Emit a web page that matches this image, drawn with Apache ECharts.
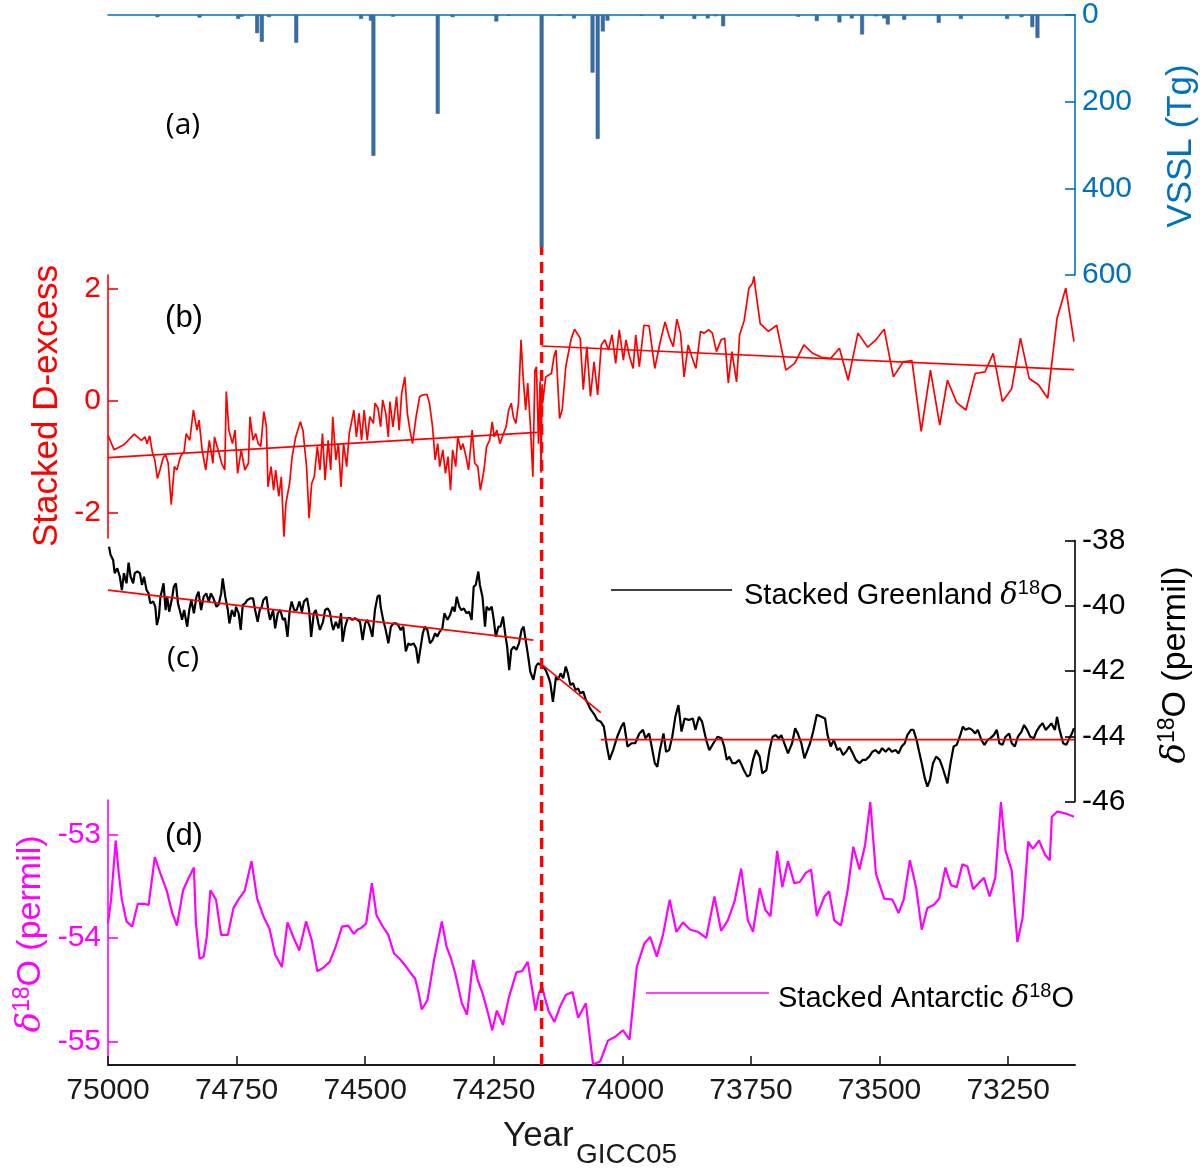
<!DOCTYPE html>
<html><head><meta charset="utf-8">
<script src="https://cdn.jsdelivr.net/npm/echarts@6/dist/echarts.min.js"></script>
<style>html,body{margin:0;padding:0;background:#fff}#c{width:1200px;height:1172px}</style>
</head><body><div id="c"></div>
<script>
// ---------- data ----------
const X_MIN = 73120, X_MAX = 75000;
const X_TICKS = [75000, 74750, 74500, 74250, 74000, 73750, 73500, 73250];
const EVENT_YEAR = 74157;

const VSSL_TICKS = [0, 200, 400, 600];
const VSSL = [[74904,5],[74822,6],[74747,9],[74740,4],[74710,42],[74701,62],[74687,5],[74634,64],[74508,9],[74489,13],[74484,325],[74446,4],[74359,228],[74330,5],[74245,15],[74221,2],[74157,536],[74122,2],[74094,8],[74058,133],[74048,286],[74038,38],[74029,13],[73963,2],[73923,9],[73860,9],[73834,8],[73819,3],[73804,26],[73658,4],[73622,14],[73578,17],[73554,8],[73534,45],[73507,3],[73491,8],[73484,22],[73452,11],[73385,18],[73342,9],[73252,9],[73224,5],[73203,28],[73193,53]];

const DEXCESS_TICKS = [-2, 0, 2];
const DEXCESS = [[75000,-0.61],[74988,-0.87],[74969,-0.78],[74949,-0.59],[74935,-0.70],[74928,-0.64],[74924,-0.76],[74919,-0.62],[74914,-0.90],[74909,-1.05],[74904,-1.38],[74899,-1.23],[74893,-1.02],[74888,-0.96],[74883,-1.11],[74877,-1.85],[74871,-1.17],[74866,-1.23],[74859,-0.99],[74852,-0.90],[74848,-0.58],[74841,-0.70],[74834,-0.16],[74827,-0.52],[74823,-0.34],[74817,-0.87],[74810,-1.23],[74803,-0.70],[74796,-1.11],[74793,-0.64],[74786,-0.87],[74779,-1.11],[74773,-1.23],[74770,0.17],[74765,-0.52],[74758,-0.76],[74753,-0.52],[74748,-1.29],[74741,-0.87],[74734,-1.23],[74727,-1.11],[74724,-0.28],[74718,-0.70],[74713,-0.58],[74708,-0.76],[74703,-0.81],[74697,-0.19],[74692,-0.46],[74689,-1.53],[74683,-1.17],[74678,-1.59],[74674,-1.23],[74668,-1.70],[74663,-1.35],[74658,-2.42],[74654,-1.82],[74647,-1.47],[74642,-0.99],[74635,-0.64],[74626,-0.37],[74621,-0.52],[74614,-1.17],[74609,-2.09],[74604,-1.47],[74599,-1.35],[74593,-0.81],[74588,-1.23],[74583,-0.58],[74578,-1.41],[74572,-0.70],[74567,-1.23],[74563,-0.28],[74557,-1.05],[74552,-0.76],[74547,-1.53],[74542,-0.76],[74536,-1.17],[74531,-0.58],[74522,-0.16],[74517,-0.64],[74512,-0.22],[74507,-0.70],[74502,-0.16],[74496,-0.70],[74491,-0.28],[74484,-0.40],[74481,-0.04],[74475,-0.13],[74470,-0.46],[74466,0.02],[74460,-0.22],[74455,-0.64],[74452,-0.01],[74446,-0.46],[74439,0.08],[74434,-0.52],[74429,0.14],[74423,0.43],[74418,-0.22],[74413,-0.52],[74408,-0.76],[74401,-0.28],[74394,0.08],[74387,0.11],[74380,0.12],[74375,-0.04],[74369,-0.46],[74364,-1.05],[74359,-0.76],[74355,-1.17],[74349,-0.87],[74344,-1.29],[74339,-0.99],[74334,-1.59],[74330,-0.87],[74324,-1.17],[74320,-0.64],[74314,-0.87],[74310,-0.76],[74304,-0.99],[74299,-1.23],[74292,-0.52],[74287,-1.11],[74281,-1.17],[74276,-1.59],[74269,-1.23],[74264,-0.81],[74258,-0.70],[74253,-0.37],[74249,-0.64],[74244,-0.52],[74238,-0.76],[74231,-0.58],[74226,-0.46],[74221,-0.16],[74216,-0.04],[74212,-0.28],[74207,-0.40],[74202,-0.04],[74197,1.09],[74193,0.43],[74188,-0.16],[74184,0.32],[74179,-0.40],[74174,-1.35],[74170,0.55],[74167,0.61],[74163,-0.76],[74160,0.35],[74158,-1.28],[74156,0.30],[74155,-0.04],[74149,0.43],[74138,0.49],[74133,0.79],[74129,0.91],[74122,-0.31],[74117,-0.16],[74110,0.61],[74100,1.09],[74093,1.28],[74082,1.12],[74076,0.20],[74069,0.97],[74062,0.08],[74055,0.70],[74048,0.11],[74041,1.00],[74034,1.09],[74027,0.91],[74020,1.18],[74013,0.67],[74006,1.27],[73998,0.73],[73993,1.09],[73986,0.79],[73979,0.58],[73974,1.18],[73967,0.61],[73958,1.35],[73948,1.34],[73937,0.58],[73927,1.03],[73917,1.41],[73908,1.12],[73901,0.97],[73894,1.46],[73887,1.21],[73880,0.43],[73872,1.00],[73865,0.79],[73857,0.58],[73848,1.24],[73841,1.21],[73832,1.27],[73825,1.21],[73817,0.88],[73808,1.09],[73801,1.12],[73794,0.32],[73787,0.88],[73778,0.34],[73772,1.18],[73763,1.44],[73754,2.01],[73747,2.10],[73744,2.22],[73741,1.98],[73732,1.38],[73716,1.24],[73700,1.35],[73682,0.55],[73665,0.67],[73647,1.00],[73630,0.85],[73613,0.78],[73595,0.76],[73578,0.94],[73561,0.37],[73542,1.21],[73523,0.96],[73507,1.09],[73491,1.28],[73473,0.43],[73454,0.70],[73437,0.72],[73419,-0.54],[73401,0.55],[73383,-0.43],[73368,0.37],[73350,-0.03],[73332,-0.16],[73314,0.49],[73295,0.52],[73279,0.85],[73261,-0.01],[73243,0.22],[73226,1.12],[73209,0.40],[73191,0.29],[73173,0.05],[73155,1.47],[73138,2.01],[73122,1.06]];
const DEXCESS_TREND_1 = [[75000,-1.01],[74165,-0.56]];
const DEXCESS_TREND_2 = [[74157,0.98],[73122,0.56]];

const GREENLAND_TICKS = [-46, -44, -42, -40, -38];
const GREENLAND = [[74998,-38.19],[74995,-38.44],[74990,-38.60],[74987,-39.00],[74982,-38.85],[74977,-39.11],[74973,-39.52],[74969,-39.00],[74964,-39.31],[74960,-38.68],[74956,-39.11],[74951,-39.31],[74948,-39.00],[74943,-38.95],[74938,-39.00],[74934,-39.36],[74930,-39.11],[74925,-39.52],[74921,-39.62],[74918,-39.92],[74912,-39.87],[74908,-40.03],[74905,-40.59],[74901,-40.33],[74898,-39.72],[74895,-39.52],[74892,-39.31],[74888,-40.13],[74885,-39.72],[74881,-40.18],[74875,-39.72],[74872,-39.41],[74868,-39.31],[74864,-39.92],[74859,-40.23],[74856,-40.43],[74852,-40.13],[74846,-40.64],[74842,-40.13],[74838,-39.82],[74833,-40.23],[74828,-39.72],[74824,-39.57],[74819,-40.13],[74814,-39.72],[74809,-39.62],[74804,-39.87],[74800,-39.62],[74795,-39.77],[74789,-40.03],[74785,-39.97],[74780,-39.62],[74777,-39.16],[74772,-39.72],[74767,-40.13],[74764,-40.54],[74759,-40.13],[74754,-40.33],[74751,-40.03],[74746,-40.23],[74742,-40.74],[74738,-39.97],[74733,-39.92],[74729,-39.82],[74723,-39.77],[74718,-39.77],[74714,-40.13],[74709,-40.49],[74705,-40.13],[74701,-40.03],[74698,-39.82],[74692,-39.72],[74688,-40.18],[74685,-40.43],[74679,-40.13],[74675,-40.69],[74670,-40.23],[74665,-40.13],[74660,-40.43],[74656,-40.38],[74651,-40.95],[74647,-40.18],[74643,-39.87],[74638,-40.13],[74633,-40.13],[74628,-39.87],[74623,-40.18],[74619,-39.87],[74613,-39.77],[74609,-40.13],[74605,-40.95],[74600,-40.23],[74596,-40.13],[74591,-40.54],[74588,-40.74],[74582,-40.49],[74578,-40.13],[74573,-40.08],[74569,-40.18],[74565,-40.54],[74562,-40.74],[74557,-40.49],[74552,-40.69],[74547,-40.23],[74544,-41.10],[74539,-40.64],[74534,-40.38],[74529,-40.38],[74525,-40.43],[74520,-40.38],[74515,-40.43],[74510,-40.49],[74505,-41.05],[74500,-40.54],[74496,-40.43],[74491,-40.64],[74486,-40.95],[74481,-40.13],[74476,-39.72],[74472,-39.67],[74470,-40.03],[74465,-40.43],[74460,-40.74],[74455,-41.15],[74450,-40.64],[74445,-40.54],[74440,-40.54],[74436,-40.59],[74431,-40.74],[74426,-40.64],[74421,-41.40],[74416,-41.15],[74412,-41.20],[74406,-41.15],[74401,-41.30],[74397,-41.76],[74392,-41.25],[74388,-40.84],[74384,-40.64],[74379,-40.74],[74374,-41.15],[74369,-41.05],[74364,-40.84],[74360,-40.95],[74355,-40.79],[74350,-40.69],[74346,-40.23],[74340,-40.43],[74335,-40.28],[74330,-40.03],[74326,-40.18],[74322,-39.72],[74317,-40.03],[74313,-40.13],[74308,-40.08],[74303,-40.23],[74298,-40.18],[74293,-40.43],[74289,-39.41],[74285,-39.36],[74280,-38.95],[74277,-39.36],[74272,-39.72],[74267,-40.64],[74264,-40.03],[74259,-40.13],[74254,-40.03],[74250,-40.43],[74246,-40.95],[74241,-40.64],[74237,-40.64],[74232,-40.33],[74228,-40.84],[74224,-41.25],[74220,-41.97],[74216,-41.35],[74211,-41.25],[74206,-41.35],[74201,-41.15],[74196,-40.74],[74192,-40.64],[74188,-41.05],[74183,-41.56],[74179,-42.02],[74173,-42.27],[74168,-41.86],[74164,-41.76],[74159,-41.81],[74154,-41.86],[74149,-41.97],[74144,-42.17],[74140,-42.37],[74135,-42.94],[74129,-42.17],[74125,-42.27],[74120,-42.07],[74115,-42.22],[74110,-41.86],[74106,-42.07],[74101,-42.43],[74096,-42.37],[74091,-42.58],[74086,-42.53],[74082,-42.68],[74076,-42.63],[74071,-42.88],[74067,-42.99],[74063,-43.14],[74054,-43.34],[74049,-43.50],[74042,-43.55],[74036,-43.70],[74030,-44.31],[74025,-44.72],[74018,-44.42],[74010,-44.01],[74002,-43.70],[73997,-43.58],[73990,-44.31],[73982,-44.21],[73975,-44.21],[73967,-43.91],[73960,-43.80],[73955,-44.06],[73948,-43.91],[73943,-44.31],[73937,-44.82],[73932,-44.93],[73927,-44.42],[73920,-43.91],[73915,-44.47],[73909,-44.42],[73903,-44.01],[73897,-43.40],[73891,-43.04],[73885,-43.85],[73879,-43.45],[73871,-43.50],[73863,-43.45],[73858,-43.80],[73851,-43.40],[73845,-43.55],[73837,-44.11],[73831,-44.42],[73823,-44.21],[73815,-44.01],[73807,-44.06],[73802,-44.31],[73797,-44.72],[73792,-44.62],[73786,-44.82],[73780,-44.82],[73773,-44.72],[73768,-44.88],[73764,-45.03],[73757,-45.23],[73752,-45.18],[73746,-44.72],[73740,-44.42],[73733,-44.62],[73728,-45.13],[73720,-45.03],[73714,-44.42],[73708,-44.01],[73702,-43.96],[73696,-44.06],[73691,-43.96],[73684,-44.26],[73678,-44.52],[73670,-44.21],[73664,-43.75],[73659,-43.91],[73652,-44.21],[73646,-44.67],[73640,-44.42],[73635,-44.21],[73629,-43.85],[73622,-43.34],[73613,-43.40],[73606,-43.45],[73601,-43.96],[73595,-44.31],[73589,-44.11],[73582,-44.42],[73577,-44.36],[73571,-44.57],[73565,-44.47],[73559,-44.31],[73552,-44.52],[73546,-44.72],[73539,-44.82],[73533,-44.72],[73527,-44.72],[73520,-44.62],[73514,-44.47],[73508,-44.42],[73501,-44.52],[73495,-44.36],[73488,-44.47],[73482,-44.36],[73476,-44.47],[73469,-44.42],[73463,-44.52],[73457,-44.31],[73451,-44.21],[73446,-43.96],[73439,-43.80],[73434,-43.80],[73428,-44.11],[73423,-44.47],[73418,-44.82],[73412,-45.28],[73407,-45.54],[73402,-45.33],[73396,-44.82],[73390,-44.62],[73383,-44.72],[73378,-44.93],[73372,-45.23],[73368,-45.44],[73362,-44.82],[73356,-44.31],[73350,-44.26],[73344,-44.01],[73338,-43.70],[73333,-43.80],[73326,-43.75],[73320,-43.80],[73314,-43.91],[73309,-43.80],[73302,-44.11],[73296,-44.26],[73290,-44.11],[73285,-44.06],[73278,-43.96],[73272,-43.80],[73267,-44.21],[73261,-44.26],[73255,-44.01],[73248,-43.91],[73243,-44.21],[73237,-44.31],[73231,-44.01],[73224,-43.85],[73219,-43.65],[73213,-43.80],[73207,-44.01],[73200,-44.06],[73195,-43.85],[73189,-43.70],[73183,-43.60],[73177,-43.80],[73171,-43.70],[73166,-43.60],[73159,-43.80],[73155,-43.40],[73150,-43.80],[73143,-44.21],[73137,-44.26],[73131,-44.06],[73126,-43.91],[73122,-43.75]];
const GREENLAND_TREND_1 = [[75000,-39.52],[74173,-41.05]];
const GREENLAND_TREND_2 = [[74159,-41.76],[74042,-43.27]];
const GREENLAND_TREND_3 = [[74042,-44.1],[73122,-44.1]];

const ANTARCTIC_TICKS = [-55, -54, -53];
const ANTARCTIC = [[75000,-53.86],[74994,-53.63],[74985,-53.06],[74979,-53.38],[74973,-53.63],[74964,-53.84],[74953,-53.89],[74942,-53.67],[74931,-53.67],[74921,-53.68],[74909,-53.22],[74898,-53.38],[74886,-53.54],[74875,-53.76],[74866,-53.88],[74854,-53.54],[74845,-53.44],[74833,-53.32],[74829,-53.86],[74822,-54.20],[74814,-54.18],[74808,-53.99],[74801,-53.54],[74790,-53.63],[74780,-53.97],[74767,-53.97],[74756,-53.71],[74745,-53.62],[74734,-53.54],[74721,-53.26],[74710,-53.62],[74697,-53.80],[74686,-53.91],[74675,-54.16],[74662,-54.28],[74651,-53.85],[74639,-54.00],[74628,-54.12],[74615,-53.84],[74604,-54.02],[74593,-54.32],[74582,-54.29],[74569,-54.23],[74557,-54.08],[74545,-53.89],[74533,-53.88],[74522,-53.96],[74515,-53.92],[74507,-53.90],[74498,-53.86],[74487,-53.47],[74478,-53.78],[74467,-53.88],[74455,-53.97],[74444,-54.15],[74433,-54.20],[74423,-54.26],[74413,-54.33],[74403,-54.39],[74396,-54.53],[74390,-54.69],[74379,-54.60],[74366,-54.21],[74351,-53.84],[74342,-54.08],[74333,-54.20],[74325,-54.34],[74312,-54.63],[74302,-54.74],[74290,-54.21],[74281,-54.41],[74272,-54.53],[74262,-54.71],[74253,-54.89],[74244,-54.70],[74232,-54.84],[74221,-54.58],[74206,-54.33],[74195,-54.32],[74184,-54.23],[74175,-54.50],[74169,-54.70],[74162,-54.53],[74156,-54.47],[74151,-54.57],[74143,-54.71],[74132,-54.81],[74121,-54.66],[74110,-54.55],[74097,-54.52],[74086,-54.77],[74071,-54.63],[74057,-55.22],[74043,-55.19],[74028,-54.99],[74013,-54.95],[73999,-54.89],[73986,-54.98],[73972,-54.28],[73957,-54.05],[73946,-53.99],[73933,-54.18],[73921,-53.97],[73908,-53.63],[73895,-53.94],[73882,-53.85],[73868,-53.92],[73853,-53.94],[73837,-54.00],[73821,-53.60],[73808,-53.93],[73795,-53.83],[73782,-53.65],[73769,-53.33],[73756,-53.83],[73746,-53.94],[73733,-53.52],[73722,-53.73],[73712,-53.79],[73699,-53.16],[73689,-53.51],[73678,-53.26],[73666,-53.47],[73655,-53.46],[73643,-53.37],[73633,-53.34],[73622,-53.79],[73607,-53.60],[73598,-53.55],[73588,-53.83],[73575,-53.88],[73562,-53.54],[73551,-53.12],[73539,-53.34],[73528,-53.10],[73518,-52.69],[73507,-53.38],[73491,-53.62],[73475,-53.63],[73463,-53.76],[73453,-53.63],[73441,-53.25],[73429,-53.51],[73418,-53.92],[73407,-53.71],[73394,-53.68],[73384,-53.62],[73372,-53.32],[73361,-53.49],[73350,-53.51],[73339,-53.29],[73329,-53.31],[73318,-53.53],[73307,-53.47],[73297,-53.42],[73286,-53.60],[73275,-53.42],[73264,-52.69],[73255,-53.16],[73243,-53.35],[73232,-54.04],[73222,-53.81],[73211,-53.07],[73202,-53.14],[73190,-53.06],[73178,-53.20],[73169,-53.25],[73165,-52.83],[73154,-52.78],[73138,-52.80],[73122,-52.83]];

// ---------- style ----------
const BLUE = '#0072BD', RED = '#FF0000', MAG = '#FF00FF', BLACK = '#000000';
const FONT = '"Liberation Sans", Arial, sans-serif';
const TICK_FONT = '"Liberation Sans Narrow", "Liberation Sans", Arial, sans-serif';
const TICK_FS = 30;

function xAxisFor(gi, extra) {
  return Object.assign({
    type: 'value', gridIndex: gi, min: X_MIN, max: X_MAX, inverse: true,
    axisLine: {show: false}, axisTick: {show: false}, axisLabel: {show: false},
    splitLine: {show: false}
  }, extra || {});
}
function yAxisFor(gi, color, pos, min, max, ticks, extra) {
  return Object.assign({
    type: 'value', gridIndex: gi, position: pos, min: min, max: max,
    axisLine: {show: true, onZero: false, lineStyle: {color: color, width: 1.6}},
    axisTick: {show: true, inside: true, length: 10, customValues: ticks, lineStyle: {color: color, width: 1.6}},
    axisLabel: {show: true, customValues: ticks, color: color, fontSize: TICK_FS, fontFamily: TICK_FONT, margin: 7,
      formatter: v => String(v)},
    splitLine: {show: false}
  }, extra || {});
}

const chart = echarts.init(document.getElementById('c'), null, {renderer: 'canvas'});
const line = (name, data, xi, color, width, z) => ({
  name: name, type: 'line', xAxisIndex: xi, yAxisIndex: xi, data: data,
  symbol: 'none', silent: true, z: z || 2,
  lineStyle: {color: color, width: width}, itemStyle: {color: color}
});

const richTitle = (fs, color) => ({
  n: {fontSize: fs, fontFamily: FONT, fill: color, lineHeight: fs + 6},
  d: {fontSize: fs, fontFamily: '"DejaVu Serif", serif', fontStyle: 'italic', fill: color, lineHeight: fs + 6},
  s: {fontSize: Math.round(fs * 0.68), fontFamily: FONT, fill: color, lineHeight: Math.round(fs * 0.68), verticalAlign: 'top'}
});

chart.setOption({
  animation: false,
  backgroundColor: '#ffffff',
  grid: [
    {left: 108, top: 13, width: 967, height: 262},
    {left: 108, top: 275, width: 967, height: 263},
    {left: 108, top: 540.5, width: 967, height: 261.2},
    {left: 108, top: 800, width: 967, height: 265},
    {left: 108, top: 247, width: 967, height: 818}
  ],
  xAxis: [
    xAxisFor(0, {position: 'top', axisLine: {show: true, onZero: false, lineStyle: {color: BLUE, width: 1.6}}}),
    xAxisFor(1),
    xAxisFor(2),
    xAxisFor(3, {position: 'bottom',
      axisLine: {show: true, onZero: false, lineStyle: {color: '#1a1a1a', width: 2}},
      axisTick: {show: true, inside: true, length: 9, customValues: X_TICKS, lineStyle: {color: '#1a1a1a', width: 1.6}},
      axisLabel: {show: true, customValues: X_TICKS, color: '#1a1a1a', fontSize: 30, fontFamily: TICK_FONT, margin: 11,
        formatter: v => String(v)}}),
    xAxisFor(4)
  ],
  yAxis: [
    yAxisFor(0, BLUE, 'right', 0, 600, VSSL_TICKS, {inverse: true}),
    yAxisFor(1, RED, 'left', -2.442, 2.246, DEXCESS_TICKS),
    yAxisFor(2, BLACK, 'right', -46, -38, GREENLAND_TICKS),
    yAxisFor(3, MAG, 'left', -55.225, -52.669, ANTARCTIC_TICKS),
    {type: 'value', gridIndex: 4, min: 0, max: 1, show: false}
  ],
  series: [
    {name: 'VSSL', type: 'bar', xAxisIndex: 0, yAxisIndex: 0, data: VSSL, barWidth: 4, silent: true,
      itemStyle: {color: '#2f6fae', borderColor: '#4b6080', borderWidth: 0.6}},
    line('Stacked D-excess', DEXCESS, 1, RED, 1.7),
    line('D-excess trend 1', DEXCESS_TREND_1, 1, RED, 1.6, 3),
    line('D-excess trend 2', DEXCESS_TREND_2, 1, RED, 1.6, 3),
    line('Stacked Greenland δ18O', GREENLAND, 2, BLACK, 2.2),
    line('Greenland trend 1', GREENLAND_TREND_1, 2, RED, 1.6, 3),
    line('Greenland trend 2', GREENLAND_TREND_2, 2, RED, 1.6, 3),
    line('Greenland trend 3', GREENLAND_TREND_3, 2, RED, 1.6, 3),
    line('Stacked Antarctic δ18O', ANTARCTIC, 3, MAG, 2.2),
    {name: 'event', type: 'line', xAxisIndex: 4, yAxisIndex: 4, symbol: 'none', silent: true, z: 10,
      data: [[EVENT_YEAR, 0], [EVENT_YEAR, 1]],
      lineStyle: {color: RED, width: 3.5, type: [11, 7]}}
  ],
  graphic: [
    // panel labels
    {type: 'text', x: 183, y: 125, style: {text: '(a)', fontSize: 30, fontFamily: '"Open Sans", sans-serif', fill: '#000', align: 'center', verticalAlign: 'middle'}},
    {type: 'text', x: 184, y: 318, style: {text: '(b)', fontSize: 31, fontFamily: FONT, fill: '#000', align: 'center', verticalAlign: 'middle'}},
    {type: 'text', x: 183, y: 658, style: {text: '(c)', fontSize: 30, fontFamily: '"Open Sans", sans-serif', fill: '#000', align: 'center', verticalAlign: 'middle'}},
    {type: 'text', x: 184, y: 836, style: {text: '(d)', fontSize: 31, fontFamily: FONT, fill: '#000', align: 'center', verticalAlign: 'middle'}},
    // axis titles
    {type: 'text', x: 1181, y: 146, rotation: Math.PI / 2, style: {text: 'VSSL (Tg)', fontSize: 35, fontFamily: FONT, fill: BLUE, align: 'center', verticalAlign: 'middle'}},
    {type: 'text', x: 47, y: 406, rotation: Math.PI / 2, style: {text: 'Stacked D-excess', fontSize: 35, fontFamily: FONT, fill: RED, align: 'center', verticalAlign: 'middle'}},
    {type: 'text', x: 1176, y: 665, rotation: Math.PI / 2, style: {text: '{d|δ}{s|18}{n|O (permil)}', rich: richTitle(34, BLACK), align: 'center', verticalAlign: 'middle'}},
    {type: 'text', x: 31, y: 934, rotation: Math.PI / 2, style: {text: '{d|δ}{s|18}{n|O (permil)}', rich: richTitle(34, MAG), align: 'center', verticalAlign: 'middle'}},
    // x title
    {type: 'text', x: 503, y: 1136, style: {text: 'Year', fontSize: 35, fontFamily: TICK_FONT, fill: '#1a1a1a', align: 'left', verticalAlign: 'middle'}},
    {type: 'text', x: 576, y: 1155, style: {text: 'GICC05', fontSize: 28, fontFamily: TICK_FONT, fill: '#1a1a1a', align: 'left', verticalAlign: 'middle'}},
    // legend keys
    {type: 'line', shape: {x1: 611, y1: 590, x2: 732, y2: 590}, style: {stroke: BLACK, lineWidth: 1.6}},
    {type: 'text', x: 744, y: 596, style: {text: '{n|Stacked Greenland }{d|δ}{s|18}{n|O}', rich: richTitle(29, BLACK), align: 'left', verticalAlign: 'middle'}},
    {type: 'line', shape: {x1: 646, y1: 993, x2: 769, y2: 993}, style: {stroke: MAG, lineWidth: 1.6}},
    {type: 'text', x: 778, y: 999, style: {text: '{n|Stacked Antarctic }{d|δ}{s|18}{n|O}', rich: richTitle(29, BLACK), align: 'left', verticalAlign: 'middle'}}
  ]
});
</script>
</body></html>
